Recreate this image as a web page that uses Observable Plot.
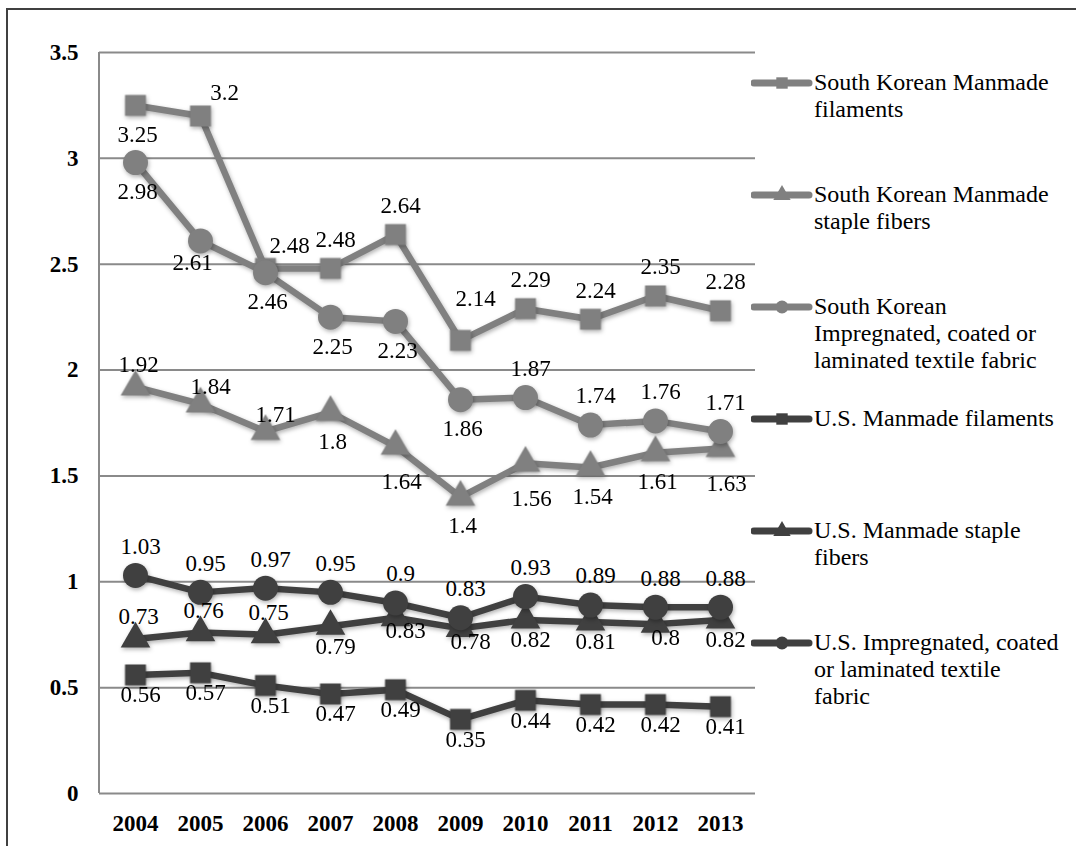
<!DOCTYPE html>
<html>
<head>
<meta charset="utf-8">
<script src="https://cdn.jsdelivr.net/npm/d3@7"></script>
<script src="https://cdn.jsdelivr.net/npm/@observablehq/plot@0.6"></script>
<style>
  body { margin: 0; background: #fff; }
  #wrap { position: relative; width: 1076px; height: 846px; overflow: hidden;
          font-family: "Liberation Serif", "Times New Roman", serif; background: #fff; }
  #frame { position: absolute; left: 6px; top: 8px; right: -10px; bottom: -10px;
           border-top: 2px solid #404040; border-left: 2px solid #404040; pointer-events: none; }
  #chart { position: absolute; left: 0; top: 0; }
  #legend { position: absolute; left: 751px; top: 69px; width: 325px; }
  .item { position: relative; height: 112px; }
  .item svg { position: absolute; left: 0; top: 4px; }
  .item .txt { position: absolute; left: 63px; top: 0; font-size: 24px; line-height: 27px; color: #000; white-space: nowrap; }
</style>
</head>
<body>
<div id="wrap">
  <div id="chart"></div>
  <div id="legend"></div>
  <div id="frame"></div>
</div>
<script>
// ---- data ----
const years = ["2004","2005","2006","2007","2008","2009","2010","2011","2012","2013"];
const seriesNames = [
  "South Korean Manmade filaments",
  "South Korean Manmade staple fibers",
  "South Korean Impregnated, coated or laminated textile fabric",
  "U.S. Manmade filaments",
  "U.S. Manmade staple fibers",
  "U.S. Impregnated, coated or laminated textile fabric"
];
const legendLines = [
  ["South Korean Manmade", "filaments"],
  ["South Korean Manmade", "staple fibers"],
  ["South Korean", "Impregnated, coated or", "laminated textile fabric"],
  ["U.S. Manmade filaments"],
  ["U.S. Manmade staple", "fibers"],
  ["U.S. Impregnated, coated", "or laminated textile", "fabric"]
];
const skFilaments = [3.25, 3.2, 2.48, 2.48, 2.64, 2.14, 2.29, 2.24, 2.35, 2.28];
const skStaple    = [1.92, 1.84, 1.71, 1.8, 1.64, 1.4, 1.56, 1.54, 1.61, 1.63];
const skFabric    = [2.98, 2.61, 2.46, 2.25, 2.23, 1.86, 1.87, 1.74, 1.76, 1.71];
const usFilaments = [0.56, 0.57, 0.51, 0.47, 0.49, 0.35, 0.44, 0.42, 0.42, 0.41];
const usStaple    = [0.73, 0.76, 0.75, 0.79, 0.83, 0.78, 0.82, 0.81, 0.8, 0.82];
const usFabric    = [1.03, 0.95, 0.97, 0.95, 0.9, 0.83, 0.93, 0.89, 0.88, 0.88];
const yTicks = [0, 0.5, 1, 1.5, 2, 2.5, 3, 3.5];

// ---- layout / style (not data) ----
const seriesValues = [skFilaments, skStaple, skFabric, usFilaments, usStaple, usFabric];
const colors  = ["#808080", "#808080", "#808080", "#404040", "#404040", "#404040"];
const symbols = ["square", "triangle", "circle", "square", "triangle", "circle"];
const radii   = {square: 11.8, triangle: 11, circle: 12.5};
// label placement codes per point
const placements = [
  ["b","ar","ar","a","a","aa","a","a","a","a"],
  ["as","as2","as2","b","bb","b","bb","b","b","bb"],
  ["b","bl","b","b","b","b","a","a","a","a"],
  ["bm","bm","bm","bm","bm","bm","bm","bm","bm","bm"],
  ["as","as","as","bm","bs","bs","bm","bm","bs","bm"],
  ["a","a","a","a","a","a","a","a","a","a"]
];
const offsets = {
  a:   {dx: 5,  dy: -29},
  aa:  {dx: 15, dy: -42},
  ar:  {dx: 24, dy: -23},
  as:  {dx: 3,  dy: -22},
  as2: {dx: 10, dy: -17},
  b:   {dx: 2,  dy: 29},
  bb:  {dx: 6,  dy: 35},
  bl:  {dx: -8, dy: 22},
  bm:  {dx: 5,  dy: 20},
  bs:  {dx: 10, dy: 13}
};

const rows = [];
seriesValues.forEach((vals, s) => vals.forEach((v, i) =>
  rows.push({series: seriesNames[s], s, year: years[i], value: v, pos: placements[s][i]})));

const marks = [
  Plot.gridY(yTicks, {stroke: "#8a8a8a", strokeOpacity: 1, strokeWidth: 2}),
  (index, scales, values, dims) => d3.create("svg:line")
      .attr("x1", dims.marginLeft).attr("x2", dims.marginLeft)
      .attr("y1", dims.marginTop).attr("y2", dims.height - dims.marginBottom)
      .attr("stroke", "#8a8a8a").attr("stroke-width", 2).node(),
  Plot.axisY(yTicks, {tickSize: 0, tickPadding: 21, fontWeight: "bold", fontSize: 23,
                      tickFormat: d => String(d), label: null}),
  Plot.axisX({tickSize: 0, tickPadding: 21, fontWeight: "bold", fontSize: 23, label: null})
];
seriesNames.forEach((name, s) => {
  const d = rows.filter(r => r.s === s);
  marks.push(Plot.line(d, {x: "year", y: "value", stroke: colors[s], strokeWidth: 6.5,
                           strokeLinejoin: "round", strokeLinecap: "round"}));
  marks.push(Plot.dot(d, {x: "year", y: "value", symbol: symbols[s], r: radii[symbols[s]],
                          fill: colors[s], stroke: "none"}));
});
Object.entries(offsets).forEach(([code, o]) => {
  marks.push(Plot.text(rows.filter(r => r.pos === code), {
    x: "year", y: "value", text: r => String(r.value), dx: o.dx, dy: o.dy,
    fontSize: 23, fill: "#000"
  }));
});

const chart = Plot.plot({
  width: 760, height: 846,
  marginLeft: 99, marginRight: 5, marginTop: 52, marginBottom: 53,
  style: {fontFamily: '"Liberation Serif", "Times New Roman", serif', fontSize: "23px",
          background: "transparent", color: "#000", overflow: "visible"},
  x: {type: "point", domain: years, padding: 0.5},
  y: {domain: [0, 3.5]},
  marks
});
d3.select(chart).selectAll('g[aria-label="line"], g[aria-label="dot"]')
  .style("filter", "drop-shadow(1.5px 2.5px 2px rgba(0,0,0,0.3))");
document.getElementById("chart").appendChild(chart);

// ---- legend ----
const legend = d3.select("#legend");
seriesNames.forEach((name, s) => {
  const item = legend.append("div").attr("class", "item");
  const svg = item.append("svg").attr("width", 62).attr("height", 20);
  svg.append("line").attr("x1", 3).attr("x2", 58).attr("y1", 10).attr("y2", 10)
     .attr("stroke", colors[s]).attr("stroke-width", 7).attr("stroke-linecap", "round");
  const sym = {square: d3.symbolSquare, triangle: d3.symbolTriangle, circle: d3.symbolCircle}[symbols[s]];
  svg.append("path").attr("transform", "translate(31,10)")
     .attr("d", d3.symbol(sym, 130)()).attr("fill", colors[s]);
  item.append("div").attr("class", "txt").html(legendLines[s].join("<br>"));
});
</script>
</body>
</html>
